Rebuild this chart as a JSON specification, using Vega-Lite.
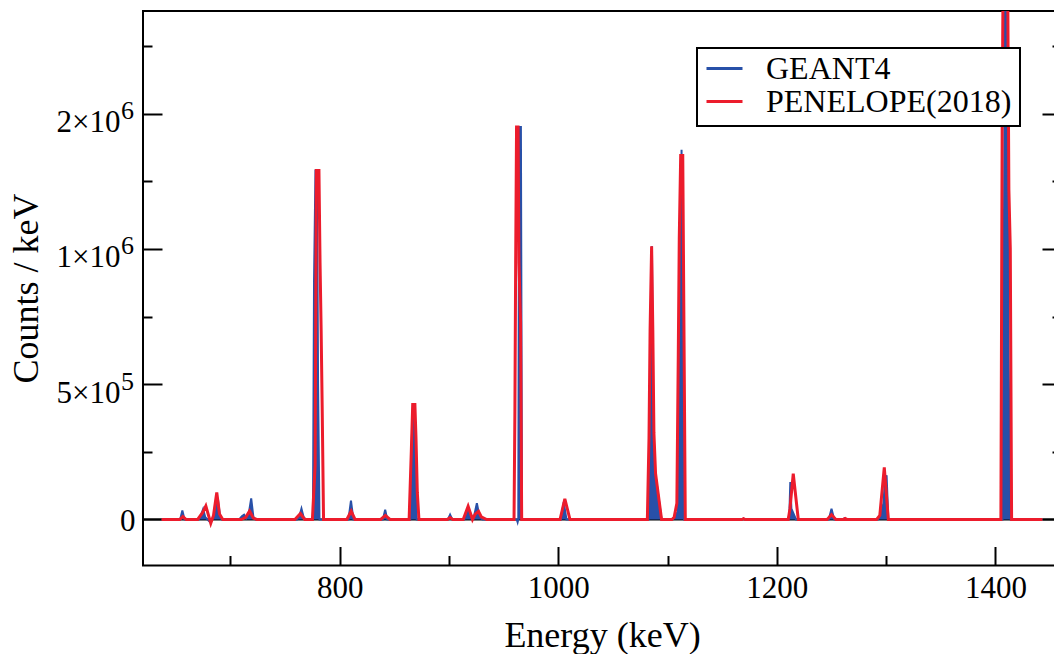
{
  "$schema": "https://vega.github.io/schema/vega-lite/v6.json",
  "width": 918,
  "height": 554.5,
  "autosize": {"type": "none"},
  "padding": {"left": 143, "top": 11, "right": -7, "bottom": 88.5},
  "background": "white",
  "data": {"values": [
    {"E": 637, "C": 0, "s": "GEANT4"},
    {"E": 654, "C": 0, "s": "GEANT4"},
    {"E": 656, "C": 33000, "s": "GEANT4"},
    {"E": 658, "C": 0, "s": "GEANT4"},
    {"E": 671, "C": 0, "s": "GEANT4"},
    {"E": 673, "C": 15000, "s": "GEANT4"},
    {"E": 675, "C": 38000, "s": "GEANT4"},
    {"E": 677, "C": 8000, "s": "GEANT4"},
    {"E": 679, "C": 0, "s": "GEANT4"},
    {"E": 681.5, "C": -10000, "s": "GEANT4"},
    {"E": 683, "C": 0, "s": "GEANT4"},
    {"E": 686, "C": 20000, "s": "GEANT4"},
    {"E": 688.5, "C": 78000, "s": "GEANT4"},
    {"E": 690.5, "C": 10000, "s": "GEANT4"},
    {"E": 692, "C": 0, "s": "GEANT4"},
    {"E": 708, "C": 0, "s": "GEANT4"},
    {"E": 710.5, "C": 12000, "s": "GEANT4"},
    {"E": 712.5, "C": 18000, "s": "GEANT4"},
    {"E": 714.5, "C": 4000, "s": "GEANT4"},
    {"E": 716.5, "C": 15000, "s": "GEANT4"},
    {"E": 719, "C": 78000, "s": "GEANT4"},
    {"E": 721, "C": 10000, "s": "GEANT4"},
    {"E": 723, "C": 0, "s": "GEANT4"},
    {"E": 761, "C": 0, "s": "GEANT4"},
    {"E": 763, "C": 12000, "s": "GEANT4"},
    {"E": 765, "C": 40000, "s": "GEANT4"},
    {"E": 767, "C": 8000, "s": "GEANT4"},
    {"E": 769, "C": 0, "s": "GEANT4"},
    {"E": 775.5, "C": 0, "s": "GEANT4"},
    {"E": 776.5, "C": 880000, "s": "GEANT4"},
    {"E": 777.8, "C": 1290000, "s": "GEANT4"},
    {"E": 779.2, "C": 1290000, "s": "GEANT4"},
    {"E": 780.2, "C": 500000, "s": "GEANT4"},
    {"E": 781.5, "C": 0, "s": "GEANT4"},
    {"E": 808, "C": 0, "s": "GEANT4"},
    {"E": 810.3, "C": 70000, "s": "GEANT4"},
    {"E": 812.5, "C": 0, "s": "GEANT4"},
    {"E": 839.5, "C": 0, "s": "GEANT4"},
    {"E": 841.6, "C": 36000, "s": "GEANT4"},
    {"E": 843.5, "C": 0, "s": "GEANT4"},
    {"E": 864.5, "C": 0, "s": "GEANT4"},
    {"E": 866, "C": 300000, "s": "GEANT4"},
    {"E": 867, "C": 425000, "s": "GEANT4"},
    {"E": 868.5, "C": 425000, "s": "GEANT4"},
    {"E": 869.5, "C": 120000, "s": "GEANT4"},
    {"E": 870.5, "C": 0, "s": "GEANT4"},
    {"E": 899, "C": 0, "s": "GEANT4"},
    {"E": 901, "C": 18000, "s": "GEANT4"},
    {"E": 903, "C": 0, "s": "GEANT4"},
    {"E": 914, "C": 0, "s": "GEANT4"},
    {"E": 917.5, "C": 40000, "s": "GEANT4"},
    {"E": 920.5, "C": 15000, "s": "GEANT4"},
    {"E": 922.5, "C": 5000, "s": "GEANT4"},
    {"E": 925.5, "C": 60000, "s": "GEANT4"},
    {"E": 928, "C": 10000, "s": "GEANT4"},
    {"E": 930.5, "C": 0, "s": "GEANT4"},
    {"E": 962, "C": 0, "s": "GEANT4"},
    {"E": 962.8, "C": -10000, "s": "GEANT4"},
    {"E": 963.4, "C": 0, "s": "GEANT4"},
    {"E": 964.2, "C": 1450000, "s": "GEANT4"},
    {"E": 965.8, "C": 1450000, "s": "GEANT4"},
    {"E": 966.8, "C": 0, "s": "GEANT4"},
    {"E": 1002.5, "C": 0, "s": "GEANT4"},
    {"E": 1005, "C": 64000, "s": "GEANT4"},
    {"E": 1007.5, "C": 0, "s": "GEANT4"},
    {"E": 1082.5, "C": 0, "s": "GEANT4"},
    {"E": 1084, "C": 500000, "s": "GEANT4"},
    {"E": 1085.7, "C": 1010000, "s": "GEANT4"},
    {"E": 1086.8, "C": 350000, "s": "GEANT4"},
    {"E": 1087.5, "C": 170000, "s": "GEANT4"},
    {"E": 1089.5, "C": 150000, "s": "GEANT4"},
    {"E": 1094.5, "C": 0, "s": "GEANT4"},
    {"E": 1104.5, "C": 0, "s": "GEANT4"},
    {"E": 1107, "C": 15000, "s": "GEANT4"},
    {"E": 1109.5, "C": 30000, "s": "GEANT4"},
    {"E": 1111, "C": 600000, "s": "GEANT4"},
    {"E": 1112.8, "C": 1366000, "s": "GEANT4"},
    {"E": 1113.8, "C": 860000, "s": "GEANT4"},
    {"E": 1115, "C": 0, "s": "GEANT4"},
    {"E": 1168, "C": 0, "s": "GEANT4"},
    {"E": 1169.5, "C": 4000, "s": "GEANT4"},
    {"E": 1171, "C": 0, "s": "GEANT4"},
    {"E": 1210.5, "C": 0, "s": "GEANT4"},
    {"E": 1211.5, "C": 25000, "s": "GEANT4"},
    {"E": 1212.3, "C": 138000, "s": "GEANT4"},
    {"E": 1213.3, "C": 40000, "s": "GEANT4"},
    {"E": 1217.5, "C": 0, "s": "GEANT4"},
    {"E": 1247.5, "C": 0, "s": "GEANT4"},
    {"E": 1250, "C": 40000, "s": "GEANT4"},
    {"E": 1252.5, "C": 0, "s": "GEANT4"},
    {"E": 1260, "C": 0, "s": "GEANT4"},
    {"E": 1262, "C": 5000, "s": "GEANT4"},
    {"E": 1264, "C": 0, "s": "GEANT4"},
    {"E": 1292.5, "C": 0, "s": "GEANT4"},
    {"E": 1295, "C": 15000, "s": "GEANT4"},
    {"E": 1297.5, "C": 60000, "s": "GEANT4"},
    {"E": 1299, "C": 150000, "s": "GEANT4"},
    {"E": 1300.4, "C": 163000, "s": "GEANT4"},
    {"E": 1302, "C": 0, "s": "GEANT4"},
    {"E": 1406.5, "C": 0, "s": "GEANT4"},
    {"E": 1407.5, "C": 800000, "s": "GEANT4"},
    {"E": 1409, "C": 2200000, "s": "GEANT4"},
    {"E": 1410.5, "C": 2200000, "s": "GEANT4"},
    {"E": 1412, "C": 600000, "s": "GEANT4"},
    {"E": 1414, "C": 0, "s": "GEANT4"},
    {"E": 1443, "C": 0, "s": "GEANT4"},
    {"E": 637, "C": 0, "s": "PENELOPE(2018)"},
    {"E": 653.5, "C": 0, "s": "PENELOPE(2018)"},
    {"E": 656.5, "C": 11000, "s": "PENELOPE(2018)"},
    {"E": 659.5, "C": 0, "s": "PENELOPE(2018)"},
    {"E": 670, "C": 0, "s": "PENELOPE(2018)"},
    {"E": 674.5, "C": 25000, "s": "PENELOPE(2018)"},
    {"E": 677.5, "C": 50000, "s": "PENELOPE(2018)"},
    {"E": 682, "C": -14000, "s": "PENELOPE(2018)"},
    {"E": 684.5, "C": 15000, "s": "PENELOPE(2018)"},
    {"E": 687.5, "C": 100000, "s": "PENELOPE(2018)"},
    {"E": 690, "C": 20000, "s": "PENELOPE(2018)"},
    {"E": 693, "C": 0, "s": "PENELOPE(2018)"},
    {"E": 710, "C": 0, "s": "PENELOPE(2018)"},
    {"E": 714, "C": 8000, "s": "PENELOPE(2018)"},
    {"E": 717.5, "C": 31000, "s": "PENELOPE(2018)"},
    {"E": 721, "C": 5000, "s": "PENELOPE(2018)"},
    {"E": 724, "C": 0, "s": "PENELOPE(2018)"},
    {"E": 759, "C": 0, "s": "PENELOPE(2018)"},
    {"E": 764, "C": 22000, "s": "PENELOPE(2018)"},
    {"E": 768, "C": 0, "s": "PENELOPE(2018)"},
    {"E": 775, "C": 0, "s": "PENELOPE(2018)"},
    {"E": 777.5, "C": 200000, "s": "PENELOPE(2018)"},
    {"E": 778.6, "C": 1290000, "s": "PENELOPE(2018)"},
    {"E": 781, "C": 1290000, "s": "PENELOPE(2018)"},
    {"E": 782, "C": 950000, "s": "PENELOPE(2018)"},
    {"E": 783, "C": 700000, "s": "PENELOPE(2018)"},
    {"E": 784, "C": 400000, "s": "PENELOPE(2018)"},
    {"E": 785.2, "C": 0, "s": "PENELOPE(2018)"},
    {"E": 806.5, "C": 0, "s": "PENELOPE(2018)"},
    {"E": 810.5, "C": 31000, "s": "PENELOPE(2018)"},
    {"E": 814, "C": 0, "s": "PENELOPE(2018)"},
    {"E": 837.5, "C": 0, "s": "PENELOPE(2018)"},
    {"E": 841.8, "C": 15000, "s": "PENELOPE(2018)"},
    {"E": 846, "C": 0, "s": "PENELOPE(2018)"},
    {"E": 863.5, "C": 0, "s": "PENELOPE(2018)"},
    {"E": 865.5, "C": 250000, "s": "PENELOPE(2018)"},
    {"E": 866.8, "C": 425000, "s": "PENELOPE(2018)"},
    {"E": 868.8, "C": 425000, "s": "PENELOPE(2018)"},
    {"E": 869.8, "C": 300000, "s": "PENELOPE(2018)"},
    {"E": 871, "C": 100000, "s": "PENELOPE(2018)"},
    {"E": 872.5, "C": 0, "s": "PENELOPE(2018)"},
    {"E": 898.5, "C": 0, "s": "PENELOPE(2018)"},
    {"E": 901, "C": 7000, "s": "PENELOPE(2018)"},
    {"E": 903.5, "C": 0, "s": "PENELOPE(2018)"},
    {"E": 913, "C": 0, "s": "PENELOPE(2018)"},
    {"E": 917.5, "C": 49000, "s": "PENELOPE(2018)"},
    {"E": 921.5, "C": 0, "s": "PENELOPE(2018)"},
    {"E": 924, "C": 20000, "s": "PENELOPE(2018)"},
    {"E": 927, "C": 30000, "s": "PENELOPE(2018)"},
    {"E": 929.5, "C": 10000, "s": "PENELOPE(2018)"},
    {"E": 934.5, "C": 0, "s": "PENELOPE(2018)"},
    {"E": 959.5, "C": 0, "s": "PENELOPE(2018)"},
    {"E": 960.3, "C": 400000, "s": "PENELOPE(2018)"},
    {"E": 961, "C": 950000, "s": "PENELOPE(2018)"},
    {"E": 961.8, "C": 1450000, "s": "PENELOPE(2018)"},
    {"E": 963.2, "C": 1450000, "s": "PENELOPE(2018)"},
    {"E": 964, "C": 950000, "s": "PENELOPE(2018)"},
    {"E": 965.5, "C": 730000, "s": "PENELOPE(2018)"},
    {"E": 966.5, "C": 0, "s": "PENELOPE(2018)"},
    {"E": 1001.6, "C": 0, "s": "PENELOPE(2018)"},
    {"E": 1006, "C": 76000, "s": "PENELOPE(2018)"},
    {"E": 1010.7, "C": 0, "s": "PENELOPE(2018)"},
    {"E": 1081.5, "C": 0, "s": "PENELOPE(2018)"},
    {"E": 1083, "C": 300000, "s": "PENELOPE(2018)"},
    {"E": 1084, "C": 700000, "s": "PENELOPE(2018)"},
    {"E": 1085.4, "C": 1010000, "s": "PENELOPE(2018)"},
    {"E": 1086.5, "C": 700000, "s": "PENELOPE(2018)"},
    {"E": 1087.5, "C": 320000, "s": "PENELOPE(2018)"},
    {"E": 1089, "C": 170000, "s": "PENELOPE(2018)"},
    {"E": 1094.5, "C": 0, "s": "PENELOPE(2018)"},
    {"E": 1104, "C": 0, "s": "PENELOPE(2018)"},
    {"E": 1106, "C": 8000, "s": "PENELOPE(2018)"},
    {"E": 1108.5, "C": 60000, "s": "PENELOPE(2018)"},
    {"E": 1109.8, "C": 610000, "s": "PENELOPE(2018)"},
    {"E": 1110.7, "C": 1040000, "s": "PENELOPE(2018)"},
    {"E": 1112, "C": 1345000, "s": "PENELOPE(2018)"},
    {"E": 1113.9, "C": 1345000, "s": "PENELOPE(2018)"},
    {"E": 1116.2, "C": 0, "s": "PENELOPE(2018)"},
    {"E": 1168, "C": 0, "s": "PENELOPE(2018)"},
    {"E": 1169.5, "C": 3000, "s": "PENELOPE(2018)"},
    {"E": 1171, "C": 0, "s": "PENELOPE(2018)"},
    {"E": 1210.4, "C": 0, "s": "PENELOPE(2018)"},
    {"E": 1212, "C": 40000, "s": "PENELOPE(2018)"},
    {"E": 1215, "C": 169000, "s": "PENELOPE(2018)"},
    {"E": 1219.6, "C": 0, "s": "PENELOPE(2018)"},
    {"E": 1246, "C": 0, "s": "PENELOPE(2018)"},
    {"E": 1250, "C": 18000, "s": "PENELOPE(2018)"},
    {"E": 1254, "C": 0, "s": "PENELOPE(2018)"},
    {"E": 1260.5, "C": 0, "s": "PENELOPE(2018)"},
    {"E": 1262.5, "C": 4000, "s": "PENELOPE(2018)"},
    {"E": 1264.5, "C": 0, "s": "PENELOPE(2018)"},
    {"E": 1291.3, "C": 0, "s": "PENELOPE(2018)"},
    {"E": 1294.2, "C": 15000, "s": "PENELOPE(2018)"},
    {"E": 1298.3, "C": 193000, "s": "PENELOPE(2018)"},
    {"E": 1302, "C": 0, "s": "PENELOPE(2018)"},
    {"E": 1405, "C": 0, "s": "PENELOPE(2018)"},
    {"E": 1406.2, "C": 1500000, "s": "PENELOPE(2018)"},
    {"E": 1407.5, "C": 2300000, "s": "PENELOPE(2018)"},
    {"E": 1410.8, "C": 2300000, "s": "PENELOPE(2018)"},
    {"E": 1412.3, "C": 1220000, "s": "PENELOPE(2018)"},
    {"E": 1413.6, "C": 1000000, "s": "PENELOPE(2018)"},
    {"E": 1414.8, "C": 0, "s": "PENELOPE(2018)"},
    {"E": 1443, "C": 0, "s": "PENELOPE(2018)"}
  ]},
  "layer": [
    {
      "data": {"values": [{"z": 0}]},
      "mark": {"type": "rule", "color": "black", "strokeWidth": 2},
      "encoding": {
        "y": {"field": "z", "type": "quantitative", "scale": {"domain": [-170000, 1879000], "nice": false, "zero": false}, "axis": null}
      }
    },
    {
      "transform": [{"filter": "datum.s === 'GEANT4'"}],
      "mark": {"type": "area", "color": "#2850a8", "opacity": 1, "clip": true},
      "encoding": {
        "x": {"field": "E", "type": "quantitative", "scale": {"domain": [620, 1460], "nice": false, "zero": false}, "axis": null},
        "y": {"field": "C", "type": "quantitative", "scale": {"domain": [-170000, 1879000], "nice": false, "zero": false}, "axis": null}
      }
    },
    {
      "transform": [{"filter": "datum.s === 'GEANT4'"}],
      "mark": {"type": "line", "strokeWidth": 2, "clip": true},
      "encoding": {
        "x": {"field": "E", "type": "quantitative", "scale": {"domain": [620, 1460], "nice": false, "zero": false}, "axis": null},
        "y": {"field": "C", "type": "quantitative", "scale": {"domain": [-170000, 1879000], "nice": false, "zero": false}, "axis": null},
        "color": {"field": "s", "type": "nominal", "scale": {"domain": ["GEANT4", "PENELOPE(2018)"], "range": ["#2850a8", "#ec1c2c"]},
          "legend": {"orient": "none", "legendX": 554, "legendY": 37, "title": null, "labelFont": "Liberation Serif", "labelFontSize": 32, "labelOffset": 22, "padding": 8, "rowPadding": 0, "clipHeight": 25}}
      }
    },
    {
      "transform": [{"filter": "datum.s === 'PENELOPE(2018)'"}],
      "mark": {"type": "line", "strokeWidth": 3, "clip": true},
      "encoding": {
        "x": {"field": "E", "type": "quantitative", "scale": {"domain": [620, 1460], "nice": false, "zero": false}, "axis": null},
        "y": {"field": "C", "type": "quantitative", "scale": {"domain": [-170000, 1879000], "nice": false, "zero": false}, "axis": null},
        "color": {"field": "s", "type": "nominal", "scale": {"domain": ["GEANT4", "PENELOPE(2018)"], "range": ["#2850a8", "#ec1c2c"]},
          "legend": {"orient": "none", "legendX": 554, "legendY": 37, "title": null, "labelFont": "Liberation Serif", "labelFontSize": 32, "labelOffset": 22, "padding": 8, "rowPadding": 0, "clipHeight": 25}}
      }
    },
    {
      "data": {"values": [{"E": 700, "C": 0}]},
      "mark": {"type": "point", "opacity": 0},
      "encoding": {
        "x": {"field": "E", "type": "quantitative", "scale": {"domain": [620, 1460], "nice": false, "zero": false},
          "axis": {"orient": "bottom", "values": [800, 1000, 1200, 1400], "format": "d", "ticks": false, "tickSize": 0, "labelPadding": 32, "labelBaseline": "alphabetic", "labelFont": "Liberation Serif", "labelFontSize": 31, "labelFlush": false, "labelOverlap": false,
            "title": "Energy (keV)", "titleFont": "Liberation Serif", "titleFontSize": 36, "titleBaseline": "alphabetic", "titleX": 459, "titleY": 81, "titleAlign": "center", "titleAnchor": null}},
        "y": {"field": "C", "type": "quantitative", "scale": {"domain": [-170000, 1879000], "nice": false, "zero": false},
          "axis": {"orient": "left", "values": [0], "ticks": false, "tickSize": 0, "labelPadding": 8, "labelBaseline": "alphabetic", "labelOffset": 11, "labelAlign": "right", "labelFont": "Liberation Serif", "labelFontSize": 31, "labelExpr": "'0'", "labelOverlap": false,
            "title": "Counts / keV", "titleFont": "Liberation Serif", "titleFontSize": 36, "titleAngle": -90, "titleBaseline": "alphabetic", "titleX": -106, "titleY": 277, "titleAlign": "center", "titleAnchor": null}}
      }
    },
    {
      "data": {"values": [{"E": 700, "C": 0}]},
      "mark": {"type": "point", "opacity": 0},
      "encoding": {
        "x": {"field": "E", "type": "quantitative", "scale": {"domain": [620, 1460], "nice": false, "zero": false},
          "axis": {"orient": "bottom", "values": [800, 1000, 1200, 1400], "labels": false, "offset": -19, "tickSize": 19, "title": null}},
        "y": {"field": "C", "type": "quantitative", "scale": {"domain": [-170000, 1879000], "nice": false, "zero": false},
          "axis": {"orient": "left", "values": [0, 500000, 1000000, 1500000], "labels": false, "offset": -19, "tickSize": 19, "title": null}}
      }
    },
    {
      "data": {"values": [{"E": 700, "C": 0}]},
      "mark": {"type": "point", "opacity": 0},
      "encoding": {
        "x": {"field": "E", "type": "quantitative", "scale": {"domain": [620, 1460], "nice": false, "zero": false},
          "axis": {"orient": "bottom", "values": [700, 900, 1100, 1300], "labels": false, "offset": -10, "tickSize": 10, "title": null}},
        "y": {"field": "C", "type": "quantitative", "scale": {"domain": [-170000, 1879000], "nice": false, "zero": false},
          "axis": {"orient": "left", "values": [250000, 750000, 1250000, 1750000], "labels": false, "offset": -9, "tickSize": 9, "title": null}}
      }
    },
    {
      "data": {"values": [{"E": 700, "C": 0}]},
      "mark": {"type": "point", "opacity": 0},
      "encoding": {
        "x": {"field": "E", "type": "quantitative", "scale": {"domain": [620, 1460], "nice": false, "zero": false}, "axis": null},
        "y": {"field": "C", "type": "quantitative", "scale": {"domain": [-170000, 1879000], "nice": false, "zero": false},
          "axis": {"orient": "right", "values": [0, 500000, 1000000, 1500000], "labels": false, "offset": -19, "tickSize": 19, "title": null}}
      }
    },
    {
      "data": {"values": [{"E": 700, "C": 0}]},
      "mark": {"type": "point", "opacity": 0},
      "encoding": {
        "x": {"field": "E", "type": "quantitative", "scale": {"domain": [620, 1460], "nice": false, "zero": false}, "axis": null},
        "y": {"field": "C", "type": "quantitative", "scale": {"domain": [-170000, 1879000], "nice": false, "zero": false},
          "axis": {"orient": "right", "values": [250000, 750000, 1250000, 1750000], "labels": false, "offset": -9, "tickSize": 9, "title": null}}
      }
    },
    {
      "data": {"values": [{"E": 700, "C": 0}]},
      "mark": {"type": "point", "opacity": 0},
      "encoding": {
        "x": {"field": "E", "type": "quantitative", "scale": {"domain": [620, 1460], "nice": false, "zero": false}, "axis": null},
        "y": {"field": "C", "type": "quantitative", "scale": {"domain": [-170000, 1879000], "nice": false, "zero": false},
          "axis": {"orient": "left", "values": [500000, 1000000, 1500000], "ticks": false, "tickSize": 0, "labelPadding": 23, "labelAlign": "right", "labelBaseline": "alphabetic", "labelOffset": 18, "labelFont": "Liberation Serif", "labelFontSize": 31, "labelOverlap": false,
            "labelExpr": "datum.value === 500000 ? '5×10' : (datum.value === 1000000 ? '1×10' : '2×10')", "title": null}}
      }
    },
    {
      "data": {"values": [{"E": 700, "C": 0}]},
      "mark": {"type": "point", "opacity": 0},
      "encoding": {
        "x": {"field": "E", "type": "quantitative", "scale": {"domain": [620, 1460], "nice": false, "zero": false}, "axis": null},
        "y": {"field": "C", "type": "quantitative", "scale": {"domain": [-170000, 1879000], "nice": false, "zero": false},
          "axis": {"orient": "left", "values": [500000, 1000000, 1500000], "ticks": false, "tickSize": 0, "labelPadding": 22.5, "labelAlign": "left", "labelBaseline": "alphabetic", "labelOffset": 5, "labelFont": "Liberation Serif", "labelFontSize": 26, "labelOverlap": false,
            "labelExpr": "datum.value === 500000 ? '5' : '6'", "title": null}}
      }
    }
  ],
  "resolve": {"axis": {"x": "independent", "y": "independent"}},
  "config": {
    "font": "Liberation Serif",
    "view": {"stroke": "black", "strokeWidth": 2},
    "axis": {"grid": false, "domain": false, "tickColor": "black", "tickWidth": 2, "labelColor": "black", "titleColor": "black", "labelFont": "Liberation Serif", "titleFont": "Liberation Serif", "titleFontWeight": "normal", "labelBound": false},
    "legend": {"symbolType": "stroke", "symbolSize": 1296, "symbolStrokeWidth": 3, "labelFont": "Liberation Serif", "labelFontSize": 32, "labelColor": "black", "labelLimit": 400, "labelOffset": 22, "strokeColor": "black", "strokeWidth": 2, "fillColor": "white", "padding": 8, "rowPadding": 0, "clipHeight": 25}
  }
}
